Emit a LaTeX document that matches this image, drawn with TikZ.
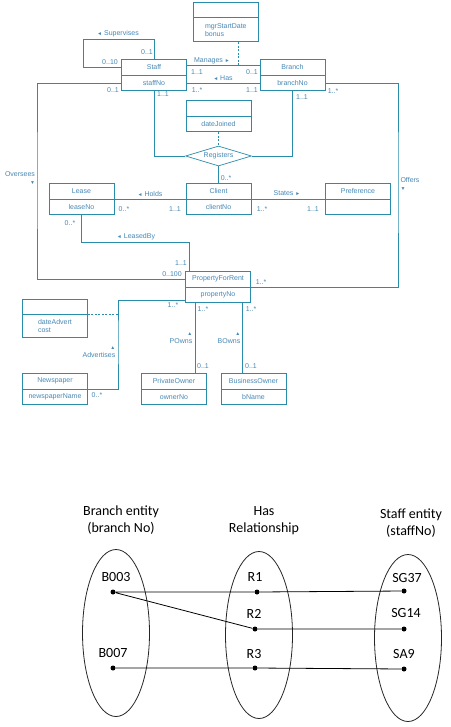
\documentclass[tikz,border=0pt]{standalone}
\usepackage{fontspec}
\usepackage{tikz}
\usetikzlibrary{shapes.geometric}
\newfontfamily\umlfont{Liberation Sans}
\newfontfamily\netfont{Carlito}
\definecolor{umlline}{RGB}{40,140,170}
\definecolor{umltext}{RGB}{70,135,180}
\newcommand{\tril}{{\fontsize{5}{5}\selectfont ◄}}
\newcommand{\trir}{{\fontsize{5}{5}\selectfont ►}}
\newcommand{\triu}{{\fontsize{5}{5}\selectfont ▲}}
\newcommand{\trid}{{\fontsize{5}{5}\selectfont ▼}}

\begin{document}
\begin{tikzpicture}[x=1pt, y=-1pt,
  cls/.style={draw=umlline, line width=0.7pt, minimum width=65pt,
    minimum height=16pt, inner sep=0pt, text=umltext,
    font=\umlfont\fontsize{7}{8}\selectfont},
  attr/.style={cls, minimum height=15pt, anchor=north},
  lbl/.style={inner sep=0pt, text=umltext, font=\umlfont\fontsize{7}{7.5}\selectfont},
  link/.style={draw=umlline, line width=0.7pt},
  aux/.style={link, dash pattern=on 2pt off 1.5pt},
  set/.style={draw=black!85, ellipse, minimum width=67pt,
    minimum height=167pt, line width=0.8pt},
  dot/.style={circle, fill=black, inner sep=0pt, minimum size=5pt},
  txt/.style={inner sep=0pt, text=black, font=\netfont\fontsize{14}{17}\selectfont},
  net/.style={draw=black, line width=0.8pt}]

  \useasboundingbox (0,0) rectangle (450,727);

  % class diagram
  \node[cls, minimum height=15pt] (mgr) at (226,9.5) {};
  \node[attr, minimum height=24pt, text width=42pt, align=left]
    (mgra) at (mgr.south) {mgrStartDate\\bonus};

  \node[cls] (staff) at (154,67) {Staff};
  \node[attr] (staffa) at (staff.south) {staffNo};

  \node[cls] (branch) at (292.5,67) {Branch};
  \node[attr] (brancha) at (branch.south) {branchNo};

  \node[cls] (regc) at (218.5,108) {};
  \node[attr] (regca) at (regc.south) {dateJoined};

  \node[cls, diamond, aspect=3.3, minimum width=66pt, minimum height=20pt]
    (reg) at (218.5,156) {Registers};

  \node[cls] (lease) at (81.5,191) {Lease};
  \node[attr] (leasea) at (lease.south) {leaseNo};

  \node[cls] (client) at (218.5,191) {Client};
  \node[attr] (clienta) at (client.south) {clientNo};

  \node[cls] (pref) at (358,191) {Preference};
  \node[attr] (prefa) at (pref.south) {};

  \node[cls] (pfr) at (218,279) {PropertyForRent};
  \node[attr] (pfra) at (pfr.south) {propertyNo};

  \node[cls, minimum height=15pt] (adv) at (55,306.5) {};
  \node[attr, minimum height=23pt, text width=34pt, align=left]
    (adva) at (adv.south) {dateAdvert\\cost};

  \node[cls] (news) at (55,381) {Newspaper};
  \node[attr] (newsa) at (news.south) {newspaperName};

  \node[cls] (powner) at (174,381) {PrivateOwner};
  \node[attr] (pownera) at (powner.south) {ownerNo};

  \node[cls] (bowner) at (253.5,381) {BusinessOwner};
  \node[attr] (bownera) at (bowner.south) {bName};

  \coordinate (sup) at (83,39);
  \coordinate (mjoin) at (238,65);
  \coordinate (lby) at (189,242);
  \coordinate (ovs) at (37,180);
  \coordinate (ofr) at (398,180);
  \coordinate (advc) at (118,340);
  \coordinate (pown) at (195,340);
  \coordinate (bown) at (242,340);

  \draw[link]
    (staff.north) |- (sup) |- (staff.west)
    ([yshift=2pt]staff.east) -- ([yshift=2pt]branch.west)
    (staffa.east) -- (brancha.west)
    (staffa.south) |- (reg.west)
    (brancha.south) |- (reg.east)
    (reg.south) -- (client.north)
    (leasea.north east) -- (clienta.north west)
    (clienta.north east) -- (prefa.north west)
    (leasea.south) |- (lby) -- (lby |- pfr.north)
    (staffa.west) -| (ovs) |- (pfr.west)
    (brancha.east) -| (ofr) |- (pfra.north east)
    ([yshift=3pt]pfra.south west) -| (advc) |- (newsa.north east)
    (pown |- pfra.south) -- (pown |- powner.north)
    (bown |- pfra.south) -- (bown |- bowner.north);

  \draw[aux]
    (mjoin |- mgra.south) -- (mjoin)
    (regca.south) -- (reg.north)
    (adva.north east) -- (adva.north east -| advc);

  \node[lbl] (lsup) at (118,34) {\tril\ Supervises};
  \node[lbl] (msup1) at (147,52) {0..1};
  \node[lbl] (msup2) at (110,62) {0..10};

  \node[lbl] (lman) at (212,61) {Manages \trir};
  \node[lbl] (mman1) at (197,72) {1..1};
  \node[lbl] (mman2) at (252,72) {0..1};

  \node[lbl] (lhas) at (223,78) {\tril\ Has};
  \node[lbl] (mhas1) at (197,90) {1..*};
  \node[lbl] (mhas2) at (252,90) {1..1};

  \node[lbl] (mreg1) at (163,94) {1..1};
  \node[lbl] (mreg2) at (302,97) {1..1};
  \node[lbl] (mreg3) at (226,178) {0..*};

  \node[lbl, align=right] (lovs) at (20,178) {Oversees\\\trid};
  \node[lbl] (movs1) at (113,90) {0..1};
  \node[lbl] (movs2) at (172,274) {0..100};

  \node[lbl, align=left] (lofr) at (410,184) {Offers\\\trid};
  \node[lbl] (mofr1) at (333,91) {1..*};
  \node[lbl] (mofr2) at (261,282) {1..*};

  \node[lbl] (lhold) at (150,194) {\tril\ Holds};
  \node[lbl] (mhold1) at (124,209) {0..*};
  \node[lbl] (mhold2) at (175,209) {1..1};

  \node[lbl] (lstat) at (287,193) {States \trir};
  \node[lbl] (mstat1) at (262,209) {1..*};
  \node[lbl] (mstat2) at (313,209) {1..1};

  \node[lbl] (llby) at (136,237) {\tril\ LeasedBy};
  \node[lbl] (mlby1) at (70,223) {0..*};
  \node[lbl] (mlby2) at (181,263) {1..1};

  \node[lbl, align=right] (ladv) at (99,352) {\triu\\Advertises};
  \node[lbl] (madv1) at (173,305) {1..*};
  \node[lbl] (madv2) at (97,395) {0..*};

  \node[lbl, align=right] (lpown) at (181,338) {\triu\\POwns};
  \node[lbl] (mpown1) at (203,309) {1..*};
  \node[lbl] (mpown2) at (203,366) {0..1};

  \node[lbl, align=right] (lbown) at (229,338) {\triu\\BOwns};
  \node[lbl] (mbown1) at (251,309) {1..*};
  \node[lbl] (mbown2) at (251,366) {0..1};

  % semantic net of Has
  \node[txt, align=center] (tbranch) at (121,520) {Branch entity\\(branch No)};
  \node[txt, align=center] (thas) at (264,521) {Has\\Relationship};
  \node[txt, align=center] (tstaff) at (411,523) {Staff entity\\(staffNo)};

  \node[set] (sbranch) at (116,633) {};
  \node[set] (shas) at (259,635) {};
  \node[set] (sstaff) at (408,638) {};

  \node[dot] (b003) at (113,592) {};
  \node[dot] (b007) at (113,668) {};
  \node[dot] (r1) at (257,592) {};
  \node[dot] (r2) at (255,629) {};
  \node[dot] (r3) at (255,668) {};
  \node[dot] (sg37) at (404,591) {};
  \node[dot] (sg14) at (404,629) {};
  \node[dot] (sa9) at (404,669) {};

  \node[txt] (tb003) at (116,577) {B003};
  \node[txt] (tb007) at (113,653) {B007};
  \node[txt] (tr1) at (255,577) {R1};
  \node[txt] (tr2) at (254,614) {R2};
  \node[txt] (tr3) at (254,654) {R3};
  \node[txt] (tsg37) at (407,578) {SG37};
  \node[txt] (tsg14) at (406,613) {SG14};
  \node[txt] (tsa9) at (404,654) {SA9};

  \draw[net]
    (b003) -- (r1) -- (sg37)
    (b003) -- (r2) -- (sg14)
    (b007) -- (r3) -- (sa9);
\end{tikzpicture}
\end{document}
